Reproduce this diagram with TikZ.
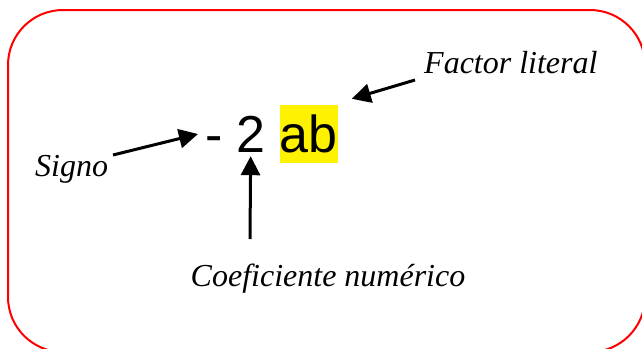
\documentclass[tikz,border=0pt]{standalone}
\usepackage{fontspec}
\setmainfont{Liberation Serif}
\newfontfamily\arialf{Liberation Sans}
\usetikzlibrary{arrows.meta,calc}
\tikzset{
  lbl/.style={inner sep=0pt, font=\fontsize{32}{36}\selectfont\itshape},
  big/.style={inner sep=0pt, text height=47pt, text depth=11pt, font=\arialf\fontsize{52}{58}\selectfont},
  arr/.style={line width=3pt, -{Triangle[length=19pt,width=19pt]}},
  frame/.style={draw=red, line width=2pt, rounded corners=55pt}
}
\begin{document}
\begin{tikzpicture}[x=1pt,y=-1pt]
\useasboundingbox (0,0) rectangle (642,348);
\clip (0,0) rectangle (642,348);
\draw[frame] (8,10) rectangle (645,352);
\node[big, anchor=base west] (minus) at (205,152) {-};
\node[big, anchor=base west] (two) at (236,152) {2};
\node[big, anchor=base west, fill=yellow] (ab) at (279.5,152) {ab};
\node[lbl, anchor=base west] (signo) at (35,176) {Signo};
\node[lbl, anchor=base west] (factor) at (424,73) {Factor literal};
\node[lbl, anchor=base] (coef) at (328,286) {Coeficiente numérico};
\coordinate (stail) at (113,155);
\coordinate (ftail) at (415,80);
\coordinate (ctail) at (250,239);
\draw[arr] (stail) -- ($(minus.west)+(-7,0)$);
\draw[arr] (ftail) -- ($(ab.north east)+(14,-6)$);
\draw[arr] (ctail) -- ($(two.south)+(0,-7)$);
\end{tikzpicture}
\end{document}
